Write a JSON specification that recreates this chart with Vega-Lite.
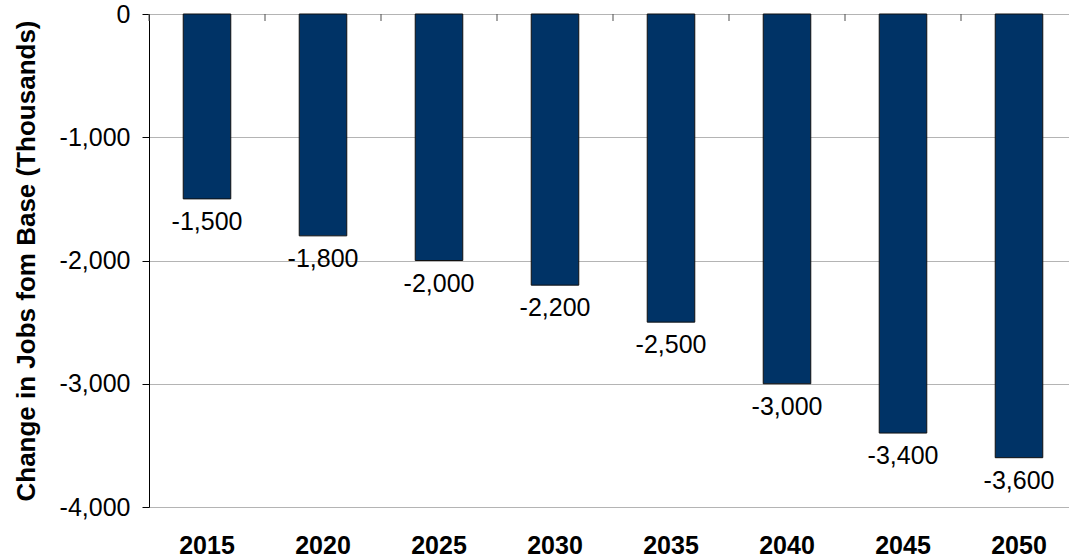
{
  "$schema": "https://vega.github.io/schema/vega-lite/v6.json",
  "autosize": "none",
  "width": 928,
  "height": 493,
  "padding": {"left": 149, "top": 14, "right": 0, "bottom": 53},
  "background": "white",
  "config": {
    "view": {"stroke": null},
    "font": "Liberation Sans",
    "locale": {"number": {"decimal": ".", "thousands": ",", "grouping": [3], "currency": ["$", ""], "minus": "-"}}
  },
  "data": {"values": [
    {"year": "2015", "change": -1500},
    {"year": "2020", "change": -1800},
    {"year": "2025", "change": -2000},
    {"year": "2030", "change": -2200},
    {"year": "2035", "change": -2500},
    {"year": "2040", "change": -3000},
    {"year": "2045", "change": -3400},
    {"year": "2050", "change": -3600}
  ]},
  "encoding": {
    "x": {"field": "year", "type": "nominal", "sort": null,
      "scale": {"paddingInner": 0.59, "paddingOuter": 0.295},
      "axis": {"orient": "bottom", "title": null, "domain": false, "ticks": false,
        "labelAngle": 0, "labelFont": "Liberation Sans", "labelFontSize": 25, "labelFontWeight": "bold",
        "labelColor": "#000000", "labelPadding": 26}},
    "y": {"field": "change", "type": "quantitative",
      "scale": {"domain": [-4000, 0], "nice": false},
      "axis": {"title": "Change in Jobs fom Base (Thousands)", "titleFont": "Liberation Sans",
        "titleFontSize": 26, "titleFontWeight": "bold", "titleColor": "#000000", "titlePadding": 20,
        "values": [0, -1000, -2000, -3000, -4000], "format": ",d",
        "labelFont": "Liberation Sans", "labelFontSize": 25, "labelColor": "#000000", "labelPadding": 12,
        "tickSize": 7, "tickColor": "#000000", "domainColor": "#000000",
        "grid": true, "gridColor": "#b4b4b4", "gridWidth": 1}}
  },
  "layer": [
    {
      "mark": {"type": "bar", "color": "#003366", "stroke": "#111111", "strokeWidth": 1}
    },
    {
      "mark": {"type": "text", "baseline": "middle", "dy": 23, "fontSize": 25, "font": "Liberation Sans", "color": "#000000"},
      "encoding": {
        "text": {"field": "change", "type": "quantitative", "format": ",d"}
      }
    },
    {
      "mark": {"type": "rule", "color": "#000000", "strokeWidth": 1},
      "encoding": {"x": {"value": 0}, "x2": {"width": true}, "y": {"datum": 0, "type": "quantitative"}}
    },
    {
      "mark": {"type": "tick", "color": "#555555", "orient": "vertical", "thickness": 1.5, "size": 7, "xOffset": -58, "yOffset": 3.5},
      "encoding": {
        "x": {"field": "year", "type": "nominal", "sort": null},
        "y": {"datum": 0, "type": "quantitative"}
      }
    }
  ]
}
